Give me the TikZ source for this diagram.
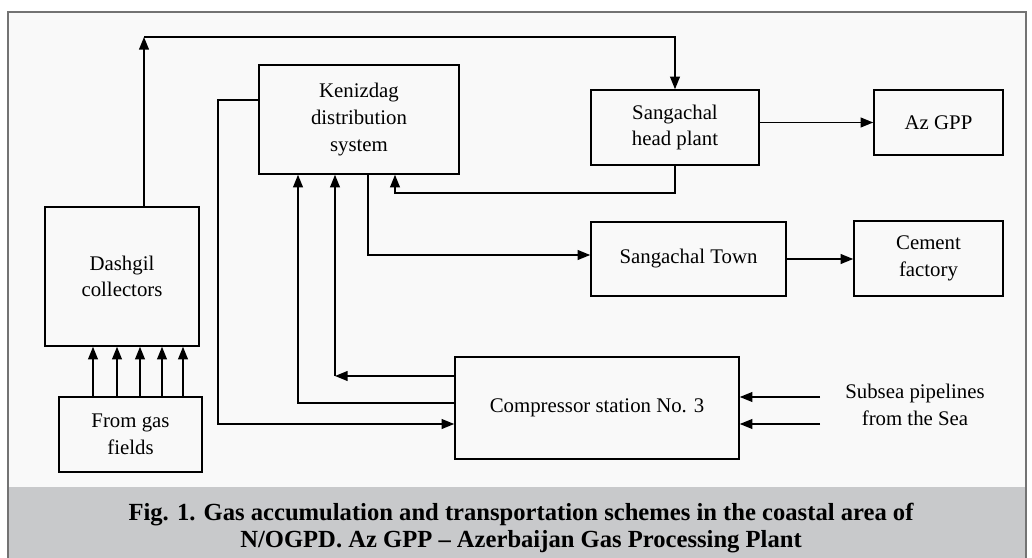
\documentclass[tikz,border=0pt]{standalone}
\usepackage{fontspec}
\setmainfont{Liberation Serif}
\usepackage{tikz}
\usetikzlibrary{arrows.meta,calc,positioning}

\def\px{0.025cm}
\definecolor{framegray}{RGB}{115,115,115}
\definecolor{capgray}{RGB}{200,201,203}
\definecolor{paper}{RGB}{249,249,249}

\begin{document}
\begin{tikzpicture}
[
	              x = \px,
	              y = -\px,
	   line width = 1.1pt,
	            > = {Triangle[length=9pt,width=7pt]},
	     box/.style = { draw=black, rectangle, inner sep=0pt, align=center,
	                    font=\fontsize{14.8}{19}\selectfont },
	 caption/.style = { align=center, font=\fontsize{17.5}{19.2}\selectfont\bfseries }
]
	\useasboundingbox (0,0) rectangle (1032,558);

	% frame and caption band
	\fill[paper] (8,12) rectangle (1026,558);
	\fill[capgray] (9,487) rectangle (1026,558);
	\draw[framegray, line width=1.6pt] (8,560) -- (8,12) -- (1026,12) -- (1026,560);

	% nodes
	\node (dash)   at (122,276.5) [box, minimum width=154*\px, minimum height=139*\px] {Dashgil\\collectors};
	\node (fields) at (130.5,434.5) [box, minimum width=143*\px, minimum height=75*\px] {From gas\\fields};
	\node (keniz)  at (359,119.5) [box, minimum width=200*\px, minimum height=109*\px] {Kenizdag\\distribution\\system};
	\node (head)   at (675,127.5) [box, minimum width=168*\px, minimum height=75*\px] {Sangachal\\head plant};
	\node (azgpp)  at (938.5,122.5) [box, minimum width=129*\px, minimum height=65*\px] {Az GPP};
	\node (town)   at (688.5,259) [box, minimum width=195*\px, minimum height=74*\px] {Sangachal Town};
	\node (cement) at (928.5,258.5) [box, minimum width=149*\px, minimum height=75*\px] {Cement\\factory};
	\node (comp)   at (597,408) [box, minimum width=284*\px, minimum height=102*\px] {Compressor station No. 3};
	\node (sea)    at (915,405) [box, draw=none] {Subsea pipelines\\from the Sea};

	\node (cap) at (521,528) [caption] {Fig. 1. Gas accumulation and transportation schemes in the coastal area of\\N/OGPD. Az GPP -- Azerbaijan Gas Processing Plant};

	% bends
	\coordinate (top)  at (144,37);
	\coordinate (kl)   at (218,100);
	\coordinate (kl2)  at (218,424);
	\coordinate (b1)   at (298,403);
	\coordinate (b2)   at (335,376);
	\coordinate (b3)   at (395,193);
	\coordinate (b4)   at (368,255);
	\coordinate (s1)   at (820,397);
	\coordinate (s2)   at (820,424);

	% edges
	\foreach \xx in {93,117,140,162,183} {
		\coordinate (t) at (\xx,0);
		\draw [->] (fields.north -| t) -- (dash.south -| t);
	}
	\draw [->] (top |- dash.north) -- (top);
	\draw [->] (top) -| (head.north);
	\draw [->] (kl -| keniz.west) -- (kl) -- (kl2) -- (kl2 -| comp.west);
	\draw [->] (b1 -| comp.west) -- (b1) -- (b1 |- keniz.south);
	\draw [->] (b2 -| comp.west) -- (b2);
	\draw [->] (b2) -- (b2 |- keniz.south);
	\draw [->] (head.south) |- (b3) -- (b3 |- keniz.south);
	\draw [->] (b4 |- keniz.south) -- (b4) -- (b4 -| town.west);
	\draw [->] (azgpp.west -| head.east) -- (azgpp.west);
	\draw [->] (town.east) -- (town.east -| cement.west);
	\draw [->] (s1) -- (s1 -| comp.east);
	\draw [->] (s2) -- (s2 -| comp.east);
\end{tikzpicture}
\end{document}
